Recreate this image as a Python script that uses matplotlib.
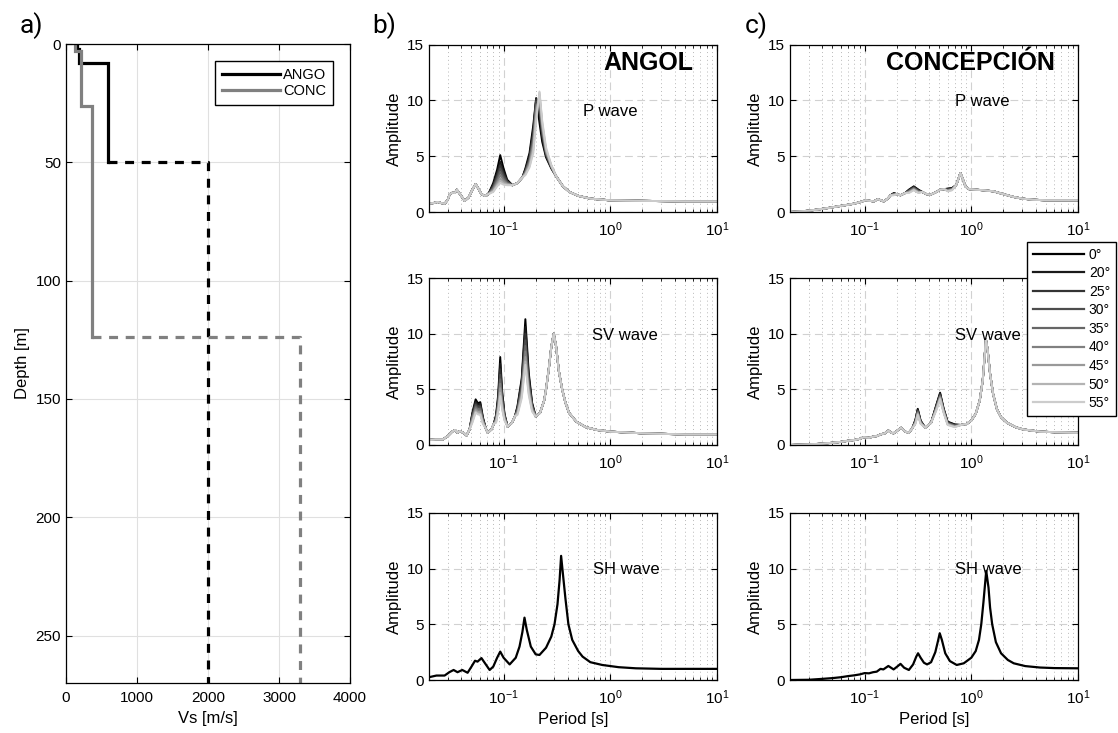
import numpy as np
import matplotlib
matplotlib.use("Agg")
from matplotlib import pyplot as plt
from matplotlib.lines import Line2D

plt.rcParams['font.family'] = ['Liberation Sans', 'DejaVu Sans']
plt.rcParams['mathtext.fontset'] = 'custom'
plt.rcParams['mathtext.rm'] = 'Liberation Sans'
plt.rcParams['mathtext.it'] = 'Liberation Sans:italic'

# ---- panel a: Vs profiles (depth [m], Vs [m/s]) ----
ango_depth = [0, 2, 2, 8, 8, 50]
ango_vs = [155, 155, 185, 185, 585, 585]
ango_hs_depth = [50, 50, 270]
ango_hs_vs = [585, 2000, 2000]

conc_depth = [0, 3, 3, 26, 26, 124]
conc_vs = [130, 130, 205, 205, 365, 365]
conc_hs_depth = [124, 124, 270]
conc_hs_vs = [365, 3300, 3300]

# ---- spectral ratios ----
ANGLES = [0, 20, 25, 30, 35, 40, 45, 50, 55]
GREYS = [0.0, 0.1, 0.2, 0.3, 0.4, 0.5, 0.6, 0.7, 0.8]

# ANGOL P: shared points + points that change with incidence angle
angol_p_t = [0.020, 0.022, 0.0241, 0.026, 0.0281, 0.030, 0.0313, 0.0335, 0.035, 0.0364,
             0.039, 0.0432, 0.047, 0.051, 0.0547, 0.058, 0.062, 0.0664, 0.072,
             0.121, 0.135, 0.150, 0.311, 0.36, 0.414, 0.5, 0.65, 0.98, 2.0, 5.0, 10.0]
angol_p_a = [0.75, 0.8, 0.9, 0.8, 0.75, 1.1, 1.6, 1.75, 1.7, 2.0,
             1.6, 1.0, 1.3, 2.0, 2.5, 2.1, 1.6, 1.45, 1.6,
             2.4, 2.6, 3.1, 3.2, 2.3, 1.8, 1.45, 1.2, 1.05, 1.0, 0.95, 0.95]
angol_p_var_t = [0.080, 0.087, 0.093, 0.100, 0.108, 0.16, 0.175, 0.19, 0.202, 0.217, 0.23, 0.25, 0.28]
angol_p_var_a = [
    [2.6, 3.8, 5.1, 3.9, 2.9, 3.9, 5.3, 7.8, 10.2, 8.0, 6.3, 4.9, 3.9],
    [2.45, 3.5, 4.5, 3.6, 2.8, 3.8, 5.0, 7.4, 10.2, 8.6, 6.7, 5.0, 4.0],
    [2.35, 3.3, 4.2, 3.4, 2.75, 3.7, 4.9, 7.1, 10.1, 9.0, 6.9, 5.1, 4.0],
    [2.25, 3.1, 3.9, 3.2, 2.7, 3.6, 4.7, 6.8, 9.9, 9.4, 7.1, 5.2, 4.0],
    [2.15, 2.9, 3.6, 3.0, 2.6, 3.6, 4.6, 6.5, 9.6, 9.8, 7.4, 5.3, 4.1],
    [2.05, 2.7, 3.3, 2.85, 2.55, 3.5, 4.4, 6.2, 9.3, 10.2, 7.6, 5.4, 4.1],
    [1.95, 2.55, 3.0, 2.7, 2.5, 3.4, 4.3, 5.9, 8.9, 10.5, 7.8, 5.5, 4.1],
    [1.85, 2.4, 2.8, 2.55, 2.45, 3.4, 4.1, 5.6, 8.5, 10.7, 8.0, 5.6, 4.2],
    [1.8, 2.3, 2.6, 2.45, 2.4, 3.3, 4.0, 5.3, 8.1, 10.8, 8.2, 5.8, 4.2],
]

# ANGOL SV
angol_sv_t = [0.020, 0.023, 0.027, 0.030, 0.033, 0.035, 0.037, 0.039, 0.042, 0.045, 0.048,
              0.068, 0.071, 0.077, 0.081, 0.109, 0.12, 0.128,
              0.2, 0.22, 0.24, 0.25, 0.265, 0.28, 0.295, 0.31, 0.33, 0.354, 0.38, 0.41,
              0.48, 0.59, 0.75, 1.0, 2.0, 5.0, 10.0]
angol_sv_a = [0.45, 0.5, 0.5, 0.8, 1.2, 1.35, 1.1, 1.25, 1.1, 0.85, 1.4,
              1.5, 1.1, 1.4, 1.9, 1.65, 2.0, 2.6,
              2.55, 2.9, 4.0, 5.0, 6.8, 8.8, 10.0, 8.9, 6.6, 5.0, 3.8, 2.9,
              2.1, 1.6, 1.35, 1.2, 1.05, 0.95, 0.95]
angol_sv_var_t = [0.051, 0.0547, 0.0575, 0.0605, 0.064, 0.085, 0.089, 0.093, 0.097, 0.102,
                  0.135, 0.148, 0.16, 0.172, 0.185]
angol_sv_var_a = [
    [2.9, 4.1, 3.75, 3.85, 2.5, 2.7, 4.5, 7.9, 4.8, 2.8, 3.5, 6.0, 11.3, 6.5, 3.8],
    [2.8, 3.9, 3.6, 3.7, 2.4, 2.6, 4.2, 7.3, 4.5, 2.7, 3.4, 5.8, 10.6, 6.2, 3.7],
    [2.7, 3.75, 3.45, 3.55, 2.35, 2.5, 4.0, 6.8, 4.3, 2.65, 3.3, 5.5, 10.0, 5.9, 3.6],
    [2.6, 3.6, 3.35, 3.4, 2.3, 2.4, 3.8, 6.3, 4.1, 2.6, 3.2, 5.3, 9.4, 5.6, 3.5],
    [2.5, 3.45, 3.2, 3.25, 2.2, 2.3, 3.6, 5.9, 3.9, 2.5, 3.1, 5.0, 8.9, 5.4, 3.4],
    [2.4, 3.3, 3.1, 3.1, 2.15, 2.25, 3.45, 5.5, 3.7, 2.45, 3.0, 4.8, 8.4, 5.1, 3.3],
    [2.25, 3.15, 2.95, 2.95, 2.05, 2.15, 3.3, 5.1, 3.5, 2.35, 2.9, 4.6, 7.9, 4.9, 3.2],
    [2.1, 3.0, 2.85, 2.8, 1.95, 2.05, 3.1, 4.7, 3.3, 2.25, 2.8, 4.4, 7.5, 4.7, 3.1],
    [2.0, 2.9, 2.75, 2.7, 1.9, 2.0, 3.0, 4.4, 3.2, 2.2, 2.7, 4.2, 7.2, 4.5, 3.0],
]

# ANGOL SH (vertical incidence only)
angol_sh_t = [0.020, 0.0235, 0.028, 0.031, 0.034, 0.037, 0.041, 0.046, 0.05, 0.054, 0.057,
              0.062, 0.067, 0.074, 0.08, 0.087, 0.093, 0.1, 0.114, 0.13, 0.141, 0.15,
              0.157, 0.165, 0.18, 0.2, 0.217, 0.25, 0.28, 0.30, 0.32, 0.335, 0.346,
              0.36, 0.38, 0.405, 0.44, 0.5, 0.55, 0.65, 0.84, 1.2, 1.74, 3.0, 10.0]
angol_sh_a = [0.25, 0.4, 0.4, 0.7, 0.9, 0.7, 0.9, 0.65, 1.2, 1.73, 1.65,
              1.97, 1.5, 0.9, 1.2, 2.0, 2.55, 2.0, 1.4, 2.0, 3.0, 4.3,
              5.6, 4.5, 3.0, 2.3, 2.25, 2.9, 3.9, 5.0, 6.8, 9.0, 11.15,
              9.5, 7.3, 5.0, 3.6, 2.6, 2.1, 1.6, 1.35, 1.15, 1.05, 1.0, 1.0]

# CONCEPCION P
conc_p_t = [0.020, 0.025, 0.030, 0.035, 0.0417, 0.05, 0.06, 0.07, 0.08, 0.092, 0.102,
            0.112, 0.122, 0.133, 0.142, 0.151, 0.165, 0.175, 0.2, 0.217, 0.24,
            0.346, 0.38, 0.414, 0.46, 0.512, 0.56, 0.72, 0.76, 0.79, 0.83, 0.88,
            0.95, 1.1, 1.3, 1.62, 2.0, 2.49, 3.0, 3.83, 5.0, 10.0]
conc_p_a = [0.0, 0.05, 0.12, 0.2, 0.3, 0.42, 0.55, 0.65, 0.75, 0.9, 1.05,
            1.0, 0.95, 1.15, 1.05, 0.95, 1.2, 1.5, 1.6, 1.5, 1.7,
            1.8, 1.6, 1.55, 1.75, 2.0, 2.05, 2.4, 3.0, 3.5, 3.0, 2.3,
            2.05, 2.0, 1.95, 1.85, 1.6, 1.35, 1.2, 1.1, 1.05, 1.05]
conc_p_var_t = [0.188, 0.26, 0.289, 0.32, 0.6, 0.66]
conc_p_var_a = [
    [1.7, 2.0, 2.3, 2.0, 2.1, 2.15],
    [1.68, 1.97, 2.26, 1.97, 2.07, 2.13],
    [1.65, 1.93, 2.22, 1.93, 2.04, 2.1],
    [1.62, 1.9, 2.17, 1.88, 2.0, 2.08],
    [1.6, 1.86, 2.13, 1.84, 1.97, 2.05],
    [1.57, 1.82, 2.08, 1.8, 1.94, 2.03],
    [1.55, 1.78, 2.03, 1.77, 1.91, 2.0],
    [1.52, 1.74, 1.99, 1.73, 1.88, 1.97],
    [1.5, 1.7, 1.95, 1.7, 1.85, 1.95],
]

# CONCEPCION SV
conc_sv_t = [0.020, 0.03, 0.04, 0.05, 0.06, 0.07, 0.08, 0.09, 0.098, 0.11, 0.12, 0.13,
             0.141, 0.155, 0.167, 0.178, 0.187, 0.2, 0.22, 0.24, 0.26, 0.28, 0.37, 0.42,
             0.8, 0.91, 1.0, 1.1, 1.2, 1.28, 1.33, 1.37, 1.42, 1.5, 1.6, 1.74, 1.9,
             2.16, 2.6, 3.05, 4.4, 6.0, 10.0]
conc_sv_a = [0.0, 0.05, 0.12, 0.2, 0.28, 0.38, 0.45, 0.55, 0.7, 0.65, 0.75, 0.8,
             0.95, 1.05, 1.3, 1.1, 1.05, 1.25, 1.55, 1.2, 1.1, 1.5, 1.55, 2.0,
             1.8, 1.9, 2.2, 2.8, 4.0, 5.8, 7.8, 9.5, 8.6, 6.4, 4.6, 3.2, 2.5,
             2.0, 1.6, 1.4, 1.2, 1.15, 1.1]
conc_sv_var_t = [0.30, 0.315, 0.335, 0.47, 0.51, 0.55, 0.6, 0.7]
conc_sv_var_a = [
    [2.3, 3.25, 2.2, 3.6, 4.7, 3.3, 2.1, 1.85],
    [2.25, 3.18, 2.16, 3.54, 4.62, 3.25, 2.06, 1.82],
    [2.2, 3.11, 2.12, 3.48, 4.55, 3.2, 2.02, 1.79],
    [2.15, 3.04, 2.08, 3.42, 4.47, 3.15, 1.98, 1.76],
    [2.1, 2.97, 2.05, 3.35, 4.4, 3.1, 1.95, 1.73],
    [2.05, 2.9, 2.01, 3.29, 4.32, 3.05, 1.91, 1.7],
    [2.0, 2.83, 1.97, 3.23, 4.25, 3.0, 1.87, 1.66],
    [1.95, 2.77, 1.93, 3.17, 4.17, 2.95, 1.83, 1.63],
    [1.9, 2.7, 1.9, 3.1, 4.1, 2.9, 1.8, 1.6],
]

# CONCEPCION SH
conc_sh_t = [0.020, 0.03, 0.0334, 0.04, 0.05, 0.06, 0.07, 0.08, 0.09, 0.1, 0.11, 0.12,
             0.13, 0.141, 0.15, 0.167, 0.187, 0.205, 0.217, 0.235, 0.26, 0.285, 0.305,
             0.317, 0.335, 0.36, 0.385, 0.42, 0.46, 0.49, 0.506, 0.53, 0.57, 0.63,
             0.73, 0.85, 1.0, 1.1, 1.18, 1.24, 1.3, 1.38, 1.45, 1.5, 1.57, 1.7, 1.9,
             2.2, 2.5, 3.2, 4.4, 6.0, 10.0]
conc_sh_a = [0.0, 0.02, 0.05, 0.1, 0.17, 0.25, 0.35, 0.42, 0.5, 0.62, 0.6, 0.7,
             0.75, 1.0, 0.95, 1.26, 0.95, 1.25, 1.45, 1.1, 0.9, 1.4, 2.1,
             2.4, 2.0, 1.55, 1.4, 1.6, 2.5, 3.6, 4.2, 3.6, 2.4, 1.7,
             1.35, 1.5, 2.0, 2.6, 3.6, 5.0, 7.0, 9.8, 8.3, 6.5, 5.0, 3.4, 2.4,
             1.8, 1.5, 1.25, 1.12, 1.07, 1.05]


def curve(base_t, base_a, var_t=None, var_a=None):
    t = list(base_t)
    a = list(base_a)
    if var_t is not None:
        t += list(var_t)
        a += list(var_a)
    t = np.array(t)
    a = np.array(a)
    order = np.argsort(t)
    return t[order], a[order]


fig = plt.figure(figsize=(11.18, 7.33), dpi=100)
W, H = 1118.0, 733.0


def px_axes(left, top, right, bottom):
    return fig.add_axes([left / W, 1 - bottom / H, (right - left) / W, (bottom - top) / H])


TICK = 11
LABEL = 12

# ---- a) ----
ax = px_axes(66, 44, 350, 683)
ax.plot(ango_vs, ango_depth, color='k', lw=2.3, solid_joinstyle='miter', label='ANGO')
ax.plot(conc_vs, conc_depth, color='0.5', lw=2.3, solid_joinstyle='miter', label='CONC')
ax.plot(ango_hs_vs, ango_hs_depth, color='k', lw=2.3, dashes=(2.8, 2.4))
ax.plot(conc_hs_vs, conc_hs_depth, color='0.5', lw=2.3, dashes=(2.8, 2.4))
ax.set_xlim(0, 4000)
ax.set_ylim(270, 0)
ax.set_xticks([0, 1000, 2000, 3000, 4000])
ax.set_yticks([0, 50, 100, 150, 200, 250])
ax.grid(True, color='0.88', lw=0.8)
ax.set_axisbelow(True)
ax.tick_params(direction='in', length=4, labelsize=TICK, top=True, right=True)
ax.tick_params(axis='x', pad=6)
ax.set_xlabel('Vs [m/s]', fontsize=LABEL)
ax.set_ylabel('Depth [m]', fontsize=LABEL)
for s in ax.spines.values():
    s.set_linewidth(0.9)
ax.legend(loc='upper right', bbox_to_anchor=(0.940, 0.973), fontsize=10.5, handlelength=4.0,
          handletextpad=0.2, labelspacing=0.15, fancybox=False, edgecolor='k',
          framealpha=1, borderpad=0.45, borderaxespad=0)

# ---- b), c) ----
cols = [(429, 717), (790, 1078)]
rows = [(44.7, 212), (278, 445), (513, 680)]

panels = [
    [(angol_p_t, angol_p_a, angol_p_var_t, angol_p_var_a, 'P wave', (0.55, 9.0)),
     (angol_sv_t, angol_sv_a, angol_sv_var_t, angol_sv_var_a, 'SV wave', (0.68, 9.8)),
     (angol_sh_t, angol_sh_a, None, None, 'SH wave', (0.69, 9.9))],
    [(conc_p_t, conc_p_a, conc_p_var_t, conc_p_var_a, 'P wave', (0.71, 9.9)),
     (conc_sv_t, conc_sv_a, conc_sv_var_t, conc_sv_var_a, 'SV wave', (0.70, 9.8)),
     (conc_sh_t, conc_sh_a, None, None, 'SH wave', (0.70, 9.9))],
]
titles = ['ANGOL', 'CONCEPCIÓN']

for ci, (l, r) in enumerate(cols):
    for ri, (t, b) in enumerate(rows):
        ax = px_axes(l, t, r, b)
        bt, ba, vt, va, name, pos = panels[ci][ri]
        if vt is None:
            x, y = curve(bt, ba)
            ax.plot(x, y, color='k', lw=1.6)
        else:
            for k, g in enumerate(GREYS):
                x, y = curve(bt, ba, vt, va[k])
                ax.plot(x, y, color=str(g), lw=1.4)
        ax.set_xscale('log')
        ax.set_xlim(0.02, 10)
        ax.set_ylim(0, 15)
        ax.set_yticks([0, 5, 10, 15])
        ax.set_xticks([0.1, 1, 10])
        ax.grid(True, which='major', color='0.82', lw=0.8, linestyle=(0, (7, 4)))
        ax.grid(True, which='minor', axis='x', color='0.72', lw=0.7, linestyle=(0, (1, 3)))
        ax.set_axisbelow(True)
        ax.tick_params(which='both', direction='in', top=True, right=True, labelsize=TICK)
        ax.tick_params(which='major', length=4)
        ax.tick_params(which='minor', length=2.5)
        ax.tick_params(axis='x', pad=6)
        ax.set_ylabel('Amplitude', fontsize=LABEL)
        if ri == 2:
            ax.set_xlabel('Period [s]', fontsize=LABEL)
        for s in ax.spines.values():
            s.set_linewidth(0.9)
        ax.text(pos[0], pos[1], name, fontsize=12, ha='left', va='center')
        if ri == 0:
            ax.text(0.918, 0.89, titles[ci], transform=ax.transAxes, fontsize=18,
                    fontweight='bold', ha='right', va='center')

# angle legend
handles = [Line2D([], [], color=str(g), lw=1.6) for g in GREYS]
labels = ['%d°' % a for a in ANGLES]
fig.legend(handles, labels, loc='upper left', bbox_to_anchor=(1027 / W, 1 - 242 / H),
           fontsize=10, handlelength=3.7, handletextpad=0.35, labelspacing=0.33,
           fancybox=False, edgecolor='k', framealpha=1, borderpad=0.4, borderaxespad=0)

fig.text(20 / W, 1 - 26 / H, 'a)', fontsize=19, family='Roboto', va='center')
fig.text(372 / W, 1 - 26 / H, 'b)', fontsize=19, family='Roboto', va='center')
fig.text(745 / W, 1 - 26 / H, 'c)', fontsize=19, family='Roboto', va='center')

fig.savefig('out.png', dpi=100)
